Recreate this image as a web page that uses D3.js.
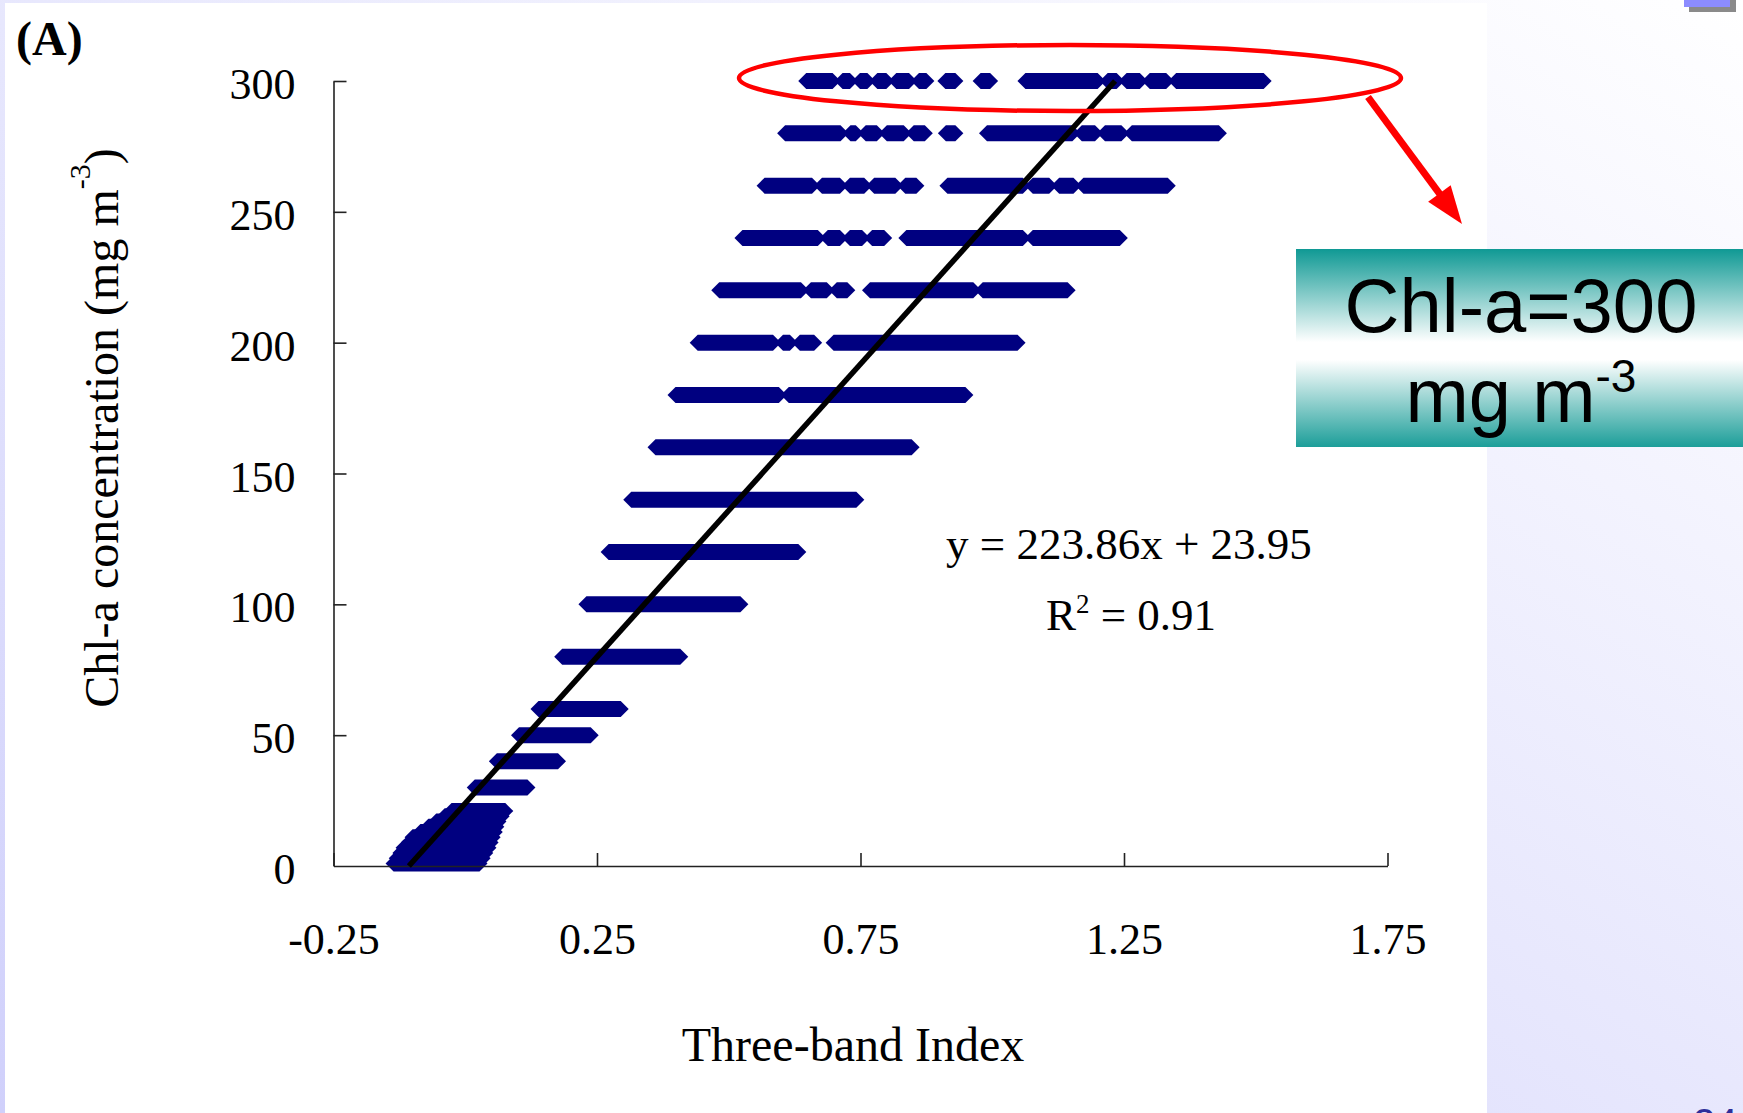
<!DOCTYPE html>
<html>
<head>
<meta charset="utf-8">
<script src="https://cdn.jsdelivr.net/npm/d3@7"></script>
<style>
  html, body { margin: 0; padding: 0; overflow: hidden; background: #fff; }
  svg { display: block; }
</style>
</head>
<body>
<script>
// Chl-a levels (mg m-3) and, for each level, the spans of Three-band Index values
// covered by the simulated points at that level ([from, to]).
const chlLevels = [1, 3, 5, 7, 9, 11, 13, 15, 17, 19, 21, 30, 40, 50, 60, 80, 100, 120, 140, 160, 180, 200, 220, 240, 260, 280, 300];
const indexRanges = [
  [[-0.136, 0.027]],
  [[-0.130, 0.033]],
  [[-0.123, 0.038]],
  [[-0.117, 0.044]],
  [[-0.107, 0.048]],
  [[-0.100, 0.052]],
  [[-0.085, 0.056]],
  [[-0.070, 0.059]],
  [[-0.055, 0.063]],
  [[-0.039, 0.069]],
  [[-0.026, 0.076]],
  [[0.018, 0.118]],
  [[0.060, 0.176]],
  [[0.102, 0.238]],
  [[0.139, 0.295]],
  [[0.184, 0.408]],
  [[0.230, 0.522]],
  [[0.272, 0.632]],
  [[0.315, 0.742]],
  [[0.361, 0.847]],
  [[0.399, 0.595], [0.614, 0.949]],
  [[0.441, 0.584], [0.603, 0.616], [0.635, 0.662], [0.699, 1.048]],
  [[0.482, 0.637], [0.656, 0.686], [0.705, 0.725], [0.768, 0.964], [0.982, 1.143]],
  [[0.526, 0.669], [0.688, 0.711], [0.730, 0.753], [0.772, 0.795], [0.837, 1.058], [1.077, 1.242]],
  [[0.568, 0.658], [0.677, 0.711], [0.730, 0.757], [0.776, 0.816], [0.835, 0.856], [0.915, 1.058], [1.077, 1.108], [1.127, 1.154], [1.173, 1.333]],
  [[0.607, 0.712], [0.731, 0.741], [0.760, 0.781], [0.800, 0.832], [0.851, 0.872], [0.912, 0.930], [0.990, 1.152], [1.170, 1.195], [1.214, 1.245], [1.265, 1.430]],
  [[0.647, 0.697], [0.716, 0.730], [0.749, 0.763], [0.782, 0.799], [0.818, 0.842], [0.861, 0.875], [0.911, 0.930], [0.978, 0.996], [1.063, 1.200], [1.219, 1.236], [1.255, 1.280], [1.299, 1.330], [1.349, 1.515]]
];

// Linear fit of Chl-a on the index
const fitSlope = 223.86;
const fitIntercept = 23.95;
const rSquared = 0.91;

// Axes
const xTickValues = [-0.25, 0.25, 0.75, 1.25, 1.75];
const xTickLabels = ["-0.25", "0.25", "0.75", "1.25", "1.75"];
const yTickValues = [0, 50, 100, 150, 200, 250, 300];
const xDomain = [-0.25, 1.75];
const yDomain = [0, 300];

// Callout
const calloutLevel = 300;
const calloutLine1 = "Chl-a=" + calloutLevel;
const calloutUnit = "mg m";
const calloutSup = "-3";
const pageNumber = "24";

const W = 1743, H = 1113;
const serif = "'Liberation Serif', 'Times New Roman', serif";
const sans = "'Liberation Sans', Arial, sans-serif";

const svg = d3.select("body").append("svg").attr("width", W).attr("height", H);
const defs = svg.append("defs");

// Slide background: soft lavender wash, lighter toward the upper right
const bg = defs.append("linearGradient").attr("id", "slideBg")
  .attr("x1", 0).attr("y1", 1).attr("x2", 1).attr("y2", 0);
bg.append("stop").attr("offset", 0).attr("stop-color", "#d0d0fb");
bg.append("stop").attr("offset", 1).attr("stop-color", "#ffffff");

// Teal-white-teal band for the callout box
const teal = defs.append("linearGradient").attr("id", "tealBand")
  .attr("x1", 0).attr("y1", 0).attr("x2", 0).attr("y2", 1);
teal.append("stop").attr("offset", 0).attr("stop-color", "#0f9994");
teal.append("stop").attr("offset", 0.47).attr("stop-color", "#ffffff");
teal.append("stop").attr("offset", 0.56).attr("stop-color", "#ffffff");
teal.append("stop").attr("offset", 1).attr("stop-color", "#1c9e99");

svg.append("rect").attr("width", W).attr("height", H).attr("fill", "url(#slideBg)");

// White figure panel
svg.append("rect").attr("x", 5).attr("y", 3).attr("width", 1482).attr("height", H - 3).attr("fill", "#ffffff");

// Small slide ornament in the top right corner
svg.append("rect").attr("x", 1689).attr("y", 0).attr("width", 47).attr("height", 12).attr("fill", "#8a8a8a");
svg.append("rect").attr("x", 1684).attr("y", 0).attr("width", 46).attr("height", 7).attr("fill", "#8c8cff");

// Page number, mostly below the bottom edge
svg.append("text").attr("x", 1693).attr("y", 1137)
  .attr("font-family", sans).attr("font-size", 40).attr("fill", "#2e2e9a")
  .text(pageNumber);

// Scales
const x = d3.scaleLinear().domain(xDomain).range([333.5, 1387.5]);
const y = d3.scaleLinear().domain(yDomain).range([866, 81]);

// Scatter: each span is the hull of its diamond markers
const mw = 8, mh = 8;
const spans = [];
chlLevels.forEach((lvl, i) => indexRanges[i].forEach(r => spans.push({ lvl, lo: r[0], hi: r[1] })));

svg.append("g").selectAll("path").data(spans).join("path")
  .attr("d", d => {
    const x0 = x(d.lo), x1 = x(d.hi), cy = y(d.lvl);
    return `M${x0 - mw},${cy}L${x0},${cy - mh}L${x1},${cy - mh}L${x1 + mw},${cy}L${x1},${cy + mh}L${x0},${cy + mh}Z`;
  })
  .attr("fill", "#000080");

// Axes with inward ticks
const xAxis = d3.axisBottom(x).tickValues(xTickValues)
  .tickFormat((d, i) => xTickLabels[i]).tickSizeInner(-13).tickSizeOuter(0).tickPadding(0);
const yAxis = d3.axisLeft(y).tickValues(yTickValues)
  .tickFormat(d3.format("d")).tickSizeInner(-13).tickSizeOuter(0).tickPadding(38);

const gx = svg.append("g").attr("transform", `translate(0,${y(0)})`).call(xAxis);
const gy = svg.append("g").attr("transform", `translate(${x(-0.25)},0)`).call(yAxis);

[gx, gy].forEach(g => {
  g.selectAll("path.domain").attr("stroke", "#222").attr("stroke-width", 1.6);
  g.selectAll(".tick line").attr("stroke", "#222").attr("stroke-width", 1.6);
  g.selectAll(".tick text").attr("font-family", serif).attr("font-size", 44).attr("fill", "#000");
});
gx.selectAll(".tick text").attr("y", 88).attr("dy", null);
gy.selectAll(".tick text").attr("dy", "0.40em");
gy.selectAll(".tick").filter(d => d === 0).select("line").remove();

// Regression line from Chl-a 0 to 300
const fitPts = [yDomain[0], yDomain[1]].map(v => [(v - fitIntercept) / fitSlope, v]);
svg.append("path")
  .attr("d", d3.line().x(d => x(d[0])).y(d => y(d[1]))(fitPts))
  .attr("stroke", "#000").attr("stroke-width", 5.5).attr("fill", "none");

// Fit equation
svg.append("text").attr("x", 1129).attr("y", 559).attr("text-anchor", "middle")
  .attr("font-family", serif).attr("font-size", 45)
  .text(`y = ${fitSlope}x + ${fitIntercept}`);
const r2 = svg.append("text").attr("x", 1131).attr("y", 630).attr("text-anchor", "middle")
  .attr("font-family", serif).attr("font-size", 45);
r2.append("tspan").text("R");
r2.append("tspan").attr("font-size", 27).attr("dy", -17).text("2");
r2.append("tspan").attr("dy", 17).text(` = ${rSquared}`);

// Axis titles
svg.append("text").attr("x", 853).attr("y", 1061).attr("text-anchor", "middle")
  .attr("font-family", serif).attr("font-size", 48).text("Three-band Index");

const yt = svg.append("text").attr("transform", "translate(118,428) rotate(-90)")
  .attr("text-anchor", "middle").attr("font-family", serif).attr("font-size", 48);
yt.append("tspan").text("Chl-a concentration (mg m");
yt.append("tspan").attr("font-size", 30).attr("dy", -28).text("-3");
yt.append("tspan").attr("dy", 28).text(")");

// Panel letter
svg.append("text").attr("x", 16).attr("y", 55)
  .attr("font-family", serif).attr("font-weight", "bold").attr("font-size", 48).text("(A)");

// Highlight of the top level and pointer to the callout
svg.append("ellipse").attr("cx", 1070).attr("cy", y(calloutLevel) - 3).attr("rx", 331).attr("ry", 33)
  .attr("fill", "none").attr("stroke", "#ff0000").attr("stroke-width", 4.5);

const tip = [1462, 224], tail = [1368, 97];
const dx = tip[0] - tail[0], dy = tip[1] - tail[1], len = Math.hypot(dx, dy);
const ux = dx / len, uy = dy / len, headL = 38, headW = 14;
const base = [tip[0] - ux * headL, tip[1] - uy * headL];
svg.append("line").attr("x1", tail[0]).attr("y1", tail[1]).attr("x2", base[0] + ux * 2).attr("y2", base[1] + uy * 2)
  .attr("stroke", "#ff0000").attr("stroke-width", 7);
svg.append("polygon")
  .attr("points", [tip, [base[0] - uy * headW, base[1] + ux * headW], [base[0] + uy * headW, base[1] - ux * headW]].map(p => p.join(",")).join(" "))
  .attr("fill", "#ff0000");

// Callout box
svg.append("rect").attr("x", 1296).attr("y", 249).attr("width", W - 1296).attr("height", 198)
  .attr("fill", "url(#tealBand)");
svg.append("text").attr("x", 1521).attr("y", 332).attr("text-anchor", "middle")
  .attr("font-family", sans).attr("font-size", 76).attr("fill", "#000").text(calloutLine1);
const cu = svg.append("text").attr("x", 1521).attr("y", 422).attr("text-anchor", "middle")
  .attr("font-family", sans).attr("font-size", 76).attr("fill", "#000");
cu.append("tspan").text(calloutUnit);
cu.append("tspan").attr("font-size", 46).attr("dy", -30).text(calloutSup);
</script>
</body>
</html>
